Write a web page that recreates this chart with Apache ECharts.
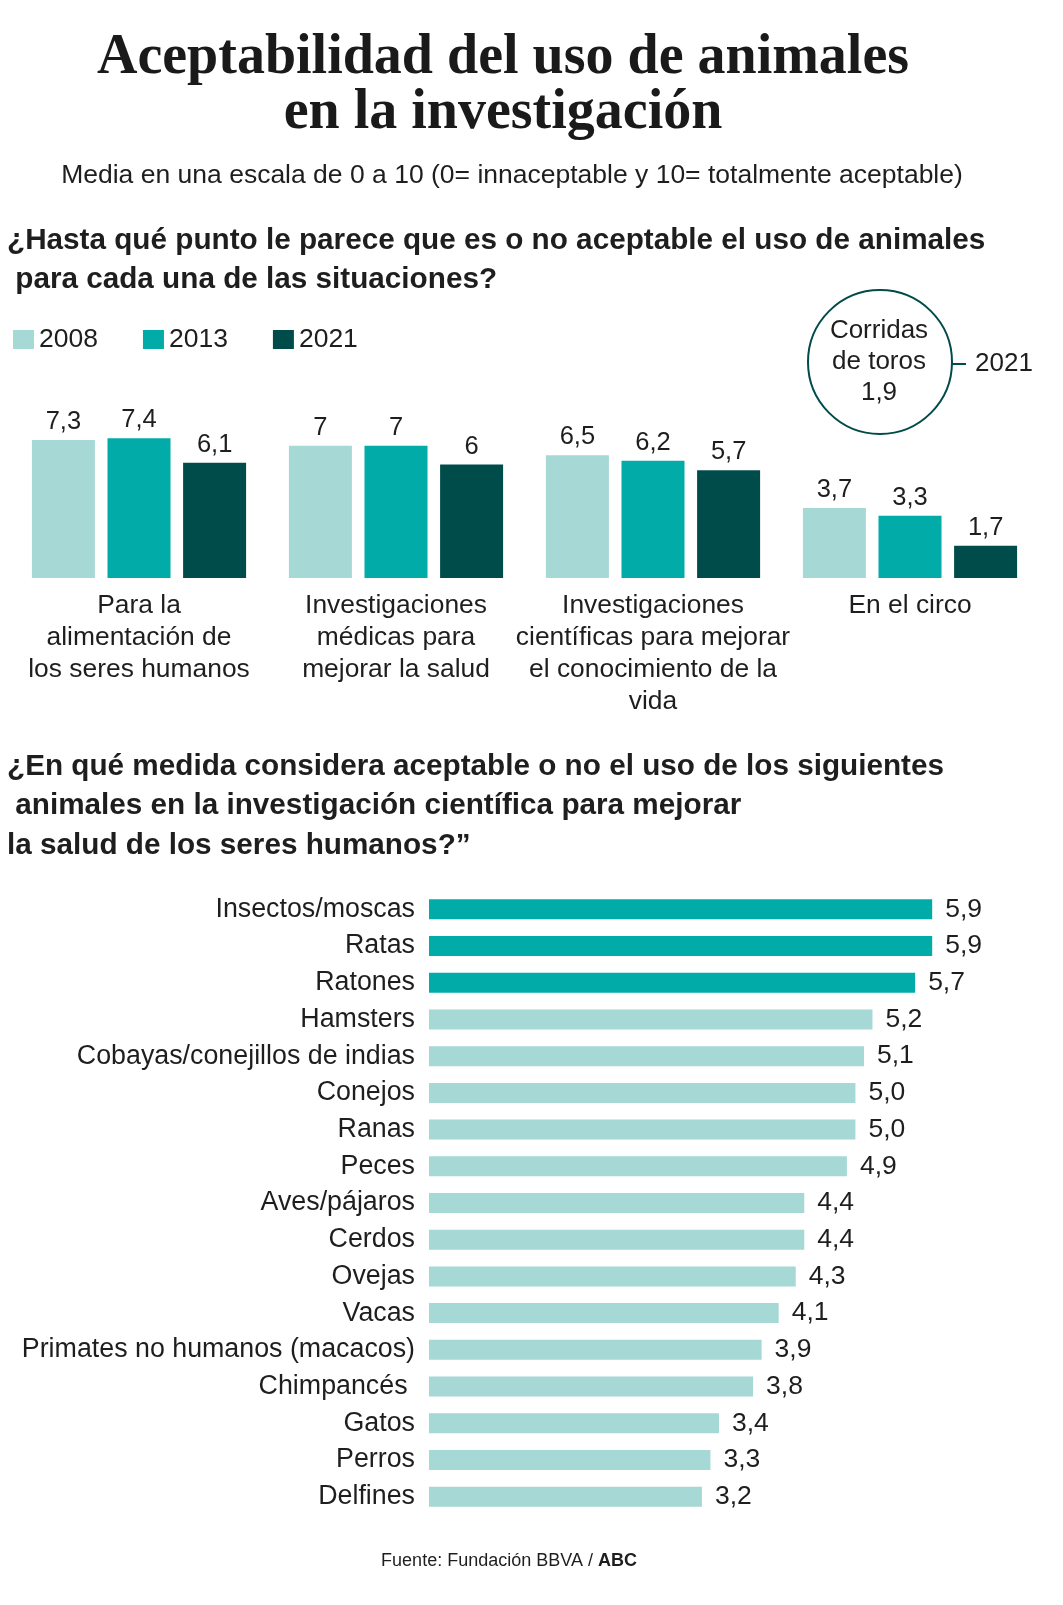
<!DOCTYPE html>
<html><head><meta charset="utf-8">
<script src="https://cdn.jsdelivr.net/npm/echarts@6/dist/echarts.min.js"></script>
<style>html,body{margin:0;padding:0;background:#fff}#c{width:1063px;height:1605px}</style>
</head><body><div id="c"></div>
<script>
// ---- data ----
const situations = [
  'Para la\nalimentación de\nlos seres humanos',
  'Investigaciones\nmédicas para\nmejorar la salud',
  'Investigaciones\ncientíficas para mejorar\nel conocimiento de la\nvida',
  'En el circo'
];
const years = ['2008', '2013', '2021'];
const values2008 = [7.3, 7.0, 6.5, 3.7];
const values2013 = [7.4, 7.0, 6.2, 3.3];
const values2021 = [6.1, 6.0, 5.7, 1.7];
const bullfightLabel = 'Corridas\nde toros';
const bullfightYear = '2021';
const bullfightValue = 1.9;
const animals = ['Insectos/moscas', 'Ratas', 'Ratones', 'Hamsters', 'Cobayas/conejillos de indias',
  'Conejos', 'Ranas', 'Peces', 'Aves/pájaros', 'Cerdos', 'Ovejas', 'Vacas',
  'Primates no humanos (macacos)', 'Chimpancés ', 'Gatos', 'Perros', 'Delfines'];
const animalValues = [5.9, 5.9, 5.7, 5.2, 5.1, 5.0, 5.0, 4.9, 4.4, 4.4, 4.3, 4.1, 3.9, 3.8, 3.4, 3.3, 3.2];
const highlightedAnimals = 3;

// ---- styles ----
const C1 = '#a6d8d6', C2 = '#00aba8', C3 = '#004c4a';
const SANS = '"Liberation Sans", Arial, Helvetica, sans-serif';
const SERIF = '"Liberation Serif", "Times New Roman", serif';
const TXT = '#1e1e1e';
const comma = v => String(v).replace('.', ',');
const comma1 = v => v.toFixed(1).replace('.', ',');

const chart = echarts.init(document.getElementById('c'), null, {renderer: 'canvas'});

function txt(x, y, text, size, opts) {
  return {
    type: 'text', x: x, y: y, silent: true,
    style: Object.assign({
      text: text, fontSize: size, fontFamily: SANS, fill: TXT,
      align: 'left', verticalAlign: 'middle'
    }, opts || {})
  };
}

const topLabel = {
  show: true, position: 'top', distance: 5, fontSize: 25.5, fontFamily: SANS, color: TXT,
  formatter: p => comma(p.value)
};

const option = {
  backgroundColor: '#fff',
  animation: false,
  textStyle: {fontFamily: SANS},
  legend: {
    data: years, left: 13, top: 326, padding: 0, itemWidth: 21, itemHeight: 19, itemGap: 45,
    icon: 'rect', selectedMode: false,
    textStyle: {fontSize: 26.5, color: TXT, fontFamily: SANS}
  },
  grid: [
    {left: 10.5, top: 389, width: 1028, height: 189},
    {left: 429, top: 891, width: 597, height: 624}
  ],
  xAxis: [
    {type: 'category', gridIndex: 0, data: situations,
      axisLine: {show: false}, axisTick: {show: false},
      axisLabel: {interval: 0, margin: 12, fontSize: 26.4, lineHeight: 32, color: TXT, fontFamily: SANS}},
    {type: 'value', gridIndex: 1, min: 0, max: 7, show: false}
  ],
  yAxis: [
    {type: 'value', gridIndex: 0, min: 0, max: 10, show: false},
    {type: 'category', gridIndex: 1, data: animals, inverse: true,
      axisLine: {show: false}, axisTick: {show: false},
      axisLabel: {margin: 14, fontSize: 26.8, color: TXT, fontFamily: SANS}}
  ],
  series: [
    {name: years[0], type: 'bar', xAxisIndex: 0, yAxisIndex: 0, data: values2008,
      barWidth: 63, barGap: '20%', itemStyle: {color: C1}, label: topLabel},
    {name: years[1], type: 'bar', xAxisIndex: 0, yAxisIndex: 0, data: values2013,
      barWidth: 63, barGap: '20%', itemStyle: {color: C2}, label: topLabel},
    {name: years[2], type: 'bar', xAxisIndex: 0, yAxisIndex: 0, data: values2021,
      barWidth: 63, barGap: '20%', itemStyle: {color: C3}, label: topLabel},
    {type: 'bar', xAxisIndex: 1, yAxisIndex: 1, data: animalValues, barWidth: 20,
      itemStyle: {color: p => p.dataIndex < highlightedAnimals ? C2 : C1},
      label: {show: true, position: 'right', distance: 13, fontSize: 26.5, color: TXT, fontFamily: SANS,
        formatter: p => comma1(p.value)}}
  ],
  graphic: [
    txt(503, 59, 'Aceptabilidad del uso de animales', 56, {fontFamily: SERIF, fontWeight: 'bold', align: 'center', fill: '#1a1a1a'}),
    txt(503, 114, 'en la investigación', 56, {fontFamily: SERIF, fontWeight: 'bold', align: 'center', fill: '#1a1a1a'}),
    txt(512, 176, 'Media en una escala de 0 a 10 (0= innaceptable y 10= totalmente aceptable)', 26.5, {align: 'center'}),
    txt(7, 241, '¿Hasta qué punto le parece que es o no aceptable el uso de animales', 29.7, {fontWeight: 'bold'}),
    txt(7, 280, ' para cada una de las situaciones?', 29.7, {fontWeight: 'bold'}),
    txt(7, 767, '¿En qué medida considera aceptable o no el uso de los siguientes', 29.7, {fontWeight: 'bold'}),
    txt(7, 806, ' animales en la investigación científica para mejorar', 29.7, {fontWeight: 'bold'}),
    txt(7, 846, 'la salud de los seres humanos?”', 29.7, {fontWeight: 'bold'}),
    {type: 'circle', silent: true, shape: {cx: 880, cy: 362, r: 72},
      style: {fill: 'none', stroke: C3, lineWidth: 2}},
    txt(879, 362, bullfightLabel + '\n' + comma(bullfightValue), 26, {align: 'center', lineHeight: 31}),
    {type: 'line', silent: true, shape: {x1: 952, y1: 364, x2: 966, y2: 364},
      style: {stroke: C3, lineWidth: 2}},
    txt(975, 364, bullfightYear, 26),
    {type: 'text', x: 509, y: 1561, silent: true,
      style: {text: '{n|Fuente: Fundación BBVA / }{b|ABC}', align: 'center', verticalAlign: 'middle',
        rich: {n: {fontSize: 18, fontFamily: SANS, fill: TXT, color: TXT},
               b: {fontSize: 18, fontFamily: SANS, fontWeight: 'bold', fill: TXT, color: TXT}}}}
  ]
};
chart.setOption(option);
</script>
</body></html>
